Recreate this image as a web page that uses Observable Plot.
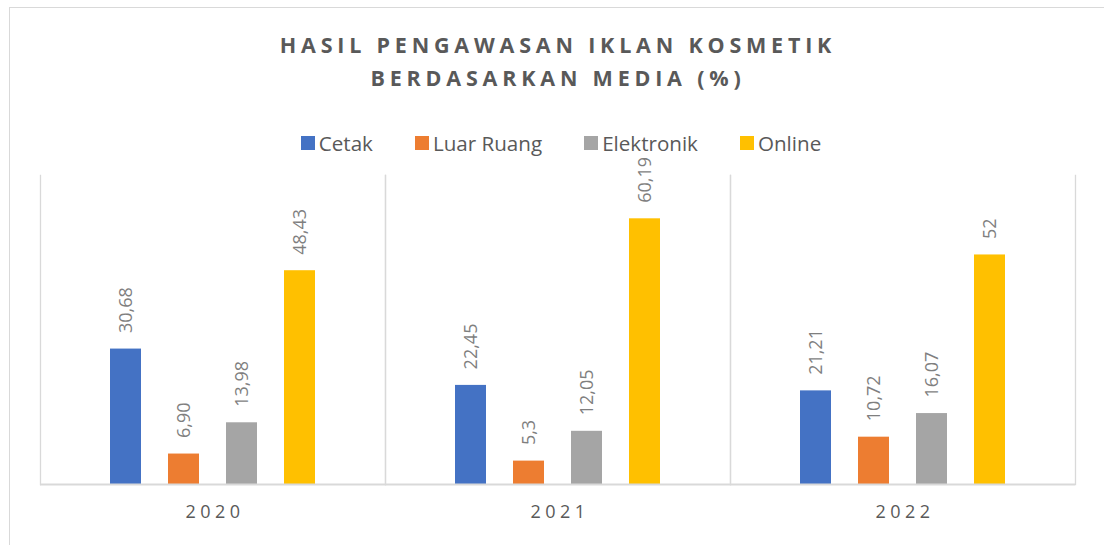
<!DOCTYPE html>
<html>
<head>
<meta charset="utf-8">
<script src="https://cdn.jsdelivr.net/npm/d3@7"></script>
<script src="https://cdn.jsdelivr.net/npm/@observablehq/plot@0.6"></script>
<style>
  html, body { margin: 0; padding: 0; background: #fff; }
  #wrap { position: relative; width: 1104px; height: 545px; overflow: hidden; font-family: "Open Sans", sans-serif; }
  #border { position: absolute; left: 9px; top: 7px; right: -2px; bottom: -2px; border-left: 1px solid #d9d9d9; border-top: 1px solid #d9d9d9; }
  #title { position: absolute; left: 6px; width: 1104px; top: 28px; text-align: center; color: #595959; font-weight: 700; font-size: 21.5px; letter-spacing: 4.8px; line-height: 33px; }
  #legend { position: absolute; left: 9px; width: 1104px; top: 129px; display: flex; justify-content: center; gap: 42px; color: #595959; font-size: 20.6px; line-height: 28px; }
  #legend .item { display: flex; align-items: center; }
  #legend .sw { width: 14px; height: 14px; margin-right: 4px; }
  #chart { position: absolute; left: 0; top: 125px; }
</style>
</head>
<body>
<div id="wrap">
  <div id="border"></div>
  <div id="title">HASIL PENGAWASAN IKLAN KOSMETIK<br>BERDASARKAN MEDIA (%)</div>
  <div id="legend"></div>
  <div id="chart"></div>
</div>
<script>
const years = ["2020", "2021", "2022"];
const series = ["Cetak", "Luar Ruang", "Elektronik", "Online"];
const colors = ["#4472C4", "#ED7D31", "#A5A5A5", "#FFC000"];
const cetak = [30.68, 22.45, 21.21];
const luarRuang = [6.90, 5.3, 10.72];
const elektronik = [13.98, 12.05, 16.07];
const online = [48.43, 60.19, 52];
const labels = [
  ["30,68", "22,45", "21,21"],
  ["6,90", "5,3", "10,72"],
  ["13,98", "12,05", "16,07"],
  ["48,43", "60,19", "52"]
];

const seriesValues = [cetak, luarRuang, elektronik, online];
const data = [];
years.forEach((yr, i) => {
  series.forEach((s, j) => {
    data.push({year: yr, series: s, value: seriesValues[j][i], label: labels[j][i]});
  });
});

// legend
const legend = document.getElementById("legend");
series.forEach((s, j) => {
  const it = document.createElement("div");
  it.className = "item";
  const sw = document.createElement("span");
  sw.className = "sw";
  sw.style.background = colors[j];
  const tx = document.createElement("span");
  tx.textContent = s;
  it.appendChild(sw);
  it.appendChild(tx);
  legend.appendChild(it);
});

const chart = Plot.plot({
  width: 1104,
  height: 420,
  marginTop: 50,
  marginBottom: 61,
  marginLeft: 40,
  marginRight: 29,
  style: {fontFamily: "Open Sans, sans-serif", background: "transparent", overflow: "visible"},
  fx: {domain: years, padding: 0, axis: null},
  x: {domain: series, paddingInner: 0.47, paddingOuter: 1.19, axis: null},
  y: {domain: [0, 70], axis: null},
  color: {domain: series, range: colors},
  marks: [
    Plot.frame({anchor: "left", stroke: "#d9d9d9", strokeWidth: 1.3}),
    Plot.frame({anchor: "right", stroke: "#d9d9d9", strokeWidth: 1.3}),
    Plot.barY(data, {fx: "year", x: "series", y: "value", fill: "series"}),
    Plot.ruleY([0], {stroke: "#d9d9d9", strokeWidth: 2}),
    Plot.text(data, {fx: "year", x: "series", y: "value", text: "label", rotate: -90, textAnchor: "start", lineAnchor: "middle", dy: -16, fill: "#7f7f7f", fontSize: 18}),
    Plot.text(years, {fx: d => d, text: d => d, frameAnchor: "bottom", dy: 28, dx: 2, lineAnchor: "middle", fill: "#595959", fontSize: 18})
  ]
});
d3.select(chart).selectAll("text")
  .filter(function () { return years.includes(this.textContent); })
  .style("letter-spacing", "4.5px");
document.getElementById("chart").appendChild(chart);
</script>
</body>
</html>
